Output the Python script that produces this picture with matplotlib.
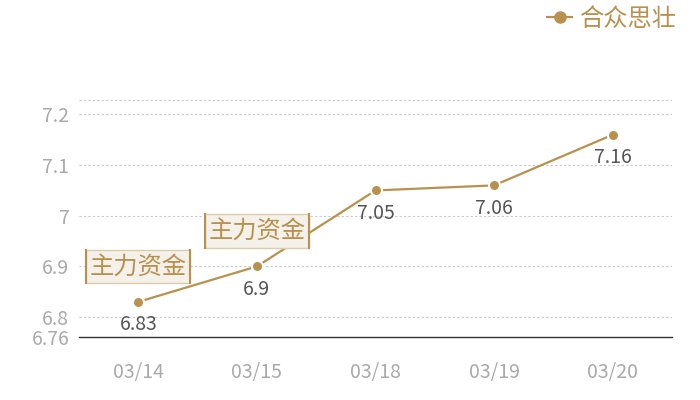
import matplotlib
matplotlib.use('Agg')
import matplotlib.pyplot as plt
from matplotlib.lines import Line2D

plt.rcParams['font.family'] = ['Noto Sans CJK SC', 'DejaVu Sans']

dates = ['03/14', '03/15', '03/18', '03/19', '03/20']
values = [6.83, 6.9, 7.05, 7.06, 7.16]
ytick_vals = [6.76, 6.8, 6.9, 7.0, 7.1, 7.2]
ytick_labels = ['6.76', '6.8', '6.9', '7', '7.1', '7.2']
y_min, y_max = 6.76, 7.228
series_name = '合众思壮'
note_text = '主力资金'
note_idx = [0, 1]

GOLD = '#b8914f'
W, H = 700, 400
fig = plt.figure(figsize=(7, 4), dpi=100)
ax = fig.add_axes([79 / W, (H - 337.3) / H, (672 - 79) / W, (337.3 - 100.3) / H])
x = list(range(len(dates)))
ax.plot(x, values, color=GOLD, lw=1.6, marker='o', ms=8, mfc=GOLD,
        mec='white', mew=1.5, zorder=3)
ax.set_xlim(-0.5, len(dates) - 0.5)
ax.set_ylim(y_min, y_max)
for s in ['top', 'right', 'left']:
    ax.spines[s].set_visible(False)
ax.spines['bottom'].set_color('#333333')
ax.spines['bottom'].set_linewidth(1)
ax.set_yticks(ytick_vals)
ax.set_yticklabels(ytick_labels)
ax.set_xticks(x)
ax.set_xticklabels(dates)
ax.tick_params(length=0, colors='#aaaaaa', labelsize=14)
ax.tick_params(axis='x', pad=18)
ax.tick_params(axis='y', pad=7)
for yv in ytick_vals[1:] + [y_max]:
    ax.axhline(yv, color='#c8c8c8', lw=0.8, ls=(0, (2, 2)), zorder=1)

for xi, v in zip(x, values):
    ax.annotate(f'{v:g}', (xi, v), xytext=(0, -16.5), textcoords='offset points',
                ha='center', va='center', fontsize=14, color='#555555', zorder=4)

notes = []
for i in note_idx:
    t = ax.annotate(note_text, (x[i], values[i]), xytext=(0, 25.5), textcoords='offset points',
                    ha='center', va='center', fontsize=17.5, color=GOLD, zorder=5,
                    bbox=dict(boxstyle='square,pad=0.15', fc='#f4f0ea', ec='#dfcda9', lw=1))
    notes.append(t)

leg = fig.legend(handles=[Line2D([], [], color=GOLD, lw=1.6, marker='o', ms=8, mfc=GOLD, mec=GOLD)],
                 labels=[series_name], loc='upper right', bbox_to_anchor=(676 / W, 1 - 6 / H),
                 frameon=False, fontsize=17.5, labelcolor=GOLD, handlelength=1.0,
                 handletextpad=0.3, borderaxespad=0, borderpad=0)

fig.canvas.draw()
inv = fig.transFigure.inverted()
for t in notes:
    bb = t.get_bbox_patch().get_window_extent()
    for xe in (bb.x0, bb.x1):
        p0 = inv.transform((xe, bb.y0))
        p1 = inv.transform((xe, bb.y1))
        fig.add_artist(Line2D([p0[0], p1[0]], [p0[1], p1[1]], color=GOLD, lw=1.5, zorder=6))

fig.savefig('out.png', dpi=100)
